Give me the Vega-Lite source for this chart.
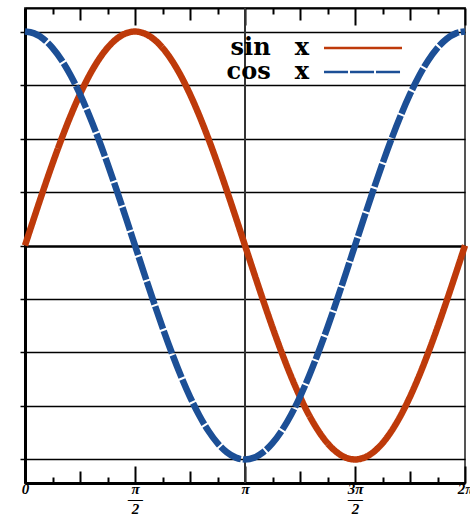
{
  "$schema": "https://vega.github.io/schema/vega-lite/v6.json",
  "autosize": "none",
  "width": 440,
  "height": 475,
  "padding": {"left": 25, "top": 8, "right": 5, "bottom": 40},
  "background": "white",
  "config": {
    "view": {"stroke": "#555", "strokeWidth": 2},
    "legend": {
      "orient": "none",
      "legendX": 197,
      "legendY": 28,
      "title": null,
      "symbolType": "M-4,0H4",
      "symbolSize": 380,
      "symbolStrokeWidth": 2.5,
      "symbolOffset": 129,
      "labelAlign": "right",
      "labelOffset": -66,
      "labelFont": "DejaVu Serif",
      "labelFontWeight": "bold",
      "labelFontSize": 24,
      "labelColor": "black",
      "labelLimit": 300,
      "rowPadding": 0
    }
  },
  "data": {
    "values": [
      {"d": 0, "sin": 0, "cos": 1},
      {"d": 7.5, "sin": 0.1305, "cos": 0.9914},
      {"d": 15, "sin": 0.2588, "cos": 0.9659},
      {"d": 22.5, "sin": 0.3827, "cos": 0.9239},
      {"d": 30, "sin": 0.5, "cos": 0.866},
      {"d": 37.5, "sin": 0.6088, "cos": 0.7934},
      {"d": 45, "sin": 0.7071, "cos": 0.7071},
      {"d": 52.5, "sin": 0.7934, "cos": 0.6088},
      {"d": 60, "sin": 0.866, "cos": 0.5},
      {"d": 67.5, "sin": 0.9239, "cos": 0.3827},
      {"d": 75, "sin": 0.9659, "cos": 0.2588},
      {"d": 82.5, "sin": 0.9914, "cos": 0.1305},
      {"d": 90, "sin": 1, "cos": 0},
      {"d": 97.5, "sin": 0.9914, "cos": -0.1305},
      {"d": 105, "sin": 0.9659, "cos": -0.2588},
      {"d": 112.5, "sin": 0.9239, "cos": -0.3827},
      {"d": 120, "sin": 0.866, "cos": -0.5},
      {"d": 127.5, "sin": 0.7934, "cos": -0.6088},
      {"d": 135, "sin": 0.7071, "cos": -0.7071},
      {"d": 142.5, "sin": 0.6088, "cos": -0.7934},
      {"d": 150, "sin": 0.5, "cos": -0.866},
      {"d": 157.5, "sin": 0.3827, "cos": -0.9239},
      {"d": 165, "sin": 0.2588, "cos": -0.9659},
      {"d": 172.5, "sin": 0.1305, "cos": -0.9914},
      {"d": 180, "sin": 0, "cos": -1},
      {"d": 187.5, "sin": -0.1305, "cos": -0.9914},
      {"d": 195, "sin": -0.2588, "cos": -0.9659},
      {"d": 202.5, "sin": -0.3827, "cos": -0.9239},
      {"d": 210, "sin": -0.5, "cos": -0.866},
      {"d": 217.5, "sin": -0.6088, "cos": -0.7934},
      {"d": 225, "sin": -0.7071, "cos": -0.7071},
      {"d": 232.5, "sin": -0.7934, "cos": -0.6088},
      {"d": 240, "sin": -0.866, "cos": -0.5},
      {"d": 247.5, "sin": -0.9239, "cos": -0.3827},
      {"d": 255, "sin": -0.9659, "cos": -0.2588},
      {"d": 262.5, "sin": -0.9914, "cos": -0.1305},
      {"d": 270, "sin": -1, "cos": 0},
      {"d": 277.5, "sin": -0.9914, "cos": 0.1305},
      {"d": 285, "sin": -0.9659, "cos": 0.2588},
      {"d": 292.5, "sin": -0.9239, "cos": 0.3827},
      {"d": 300, "sin": -0.866, "cos": 0.5},
      {"d": 307.5, "sin": -0.7934, "cos": 0.6088},
      {"d": 315, "sin": -0.7071, "cos": 0.7071},
      {"d": 322.5, "sin": -0.6088, "cos": 0.7934},
      {"d": 330, "sin": -0.5, "cos": 0.866},
      {"d": 337.5, "sin": -0.3827, "cos": 0.9239},
      {"d": 345, "sin": -0.2588, "cos": 0.9659},
      {"d": 352.5, "sin": -0.1305, "cos": 0.9914},
      {"d": 360, "sin": 0, "cos": 1}
    ]
  },
  "resolve": {"axis": {"x": "independent"}},
  "layer": [
    {
      "mark": {"type": "rule", "color": "#333", "strokeWidth": 2},
      "encoding": {
        "x": {
          "datum": 180,
          "type": "quantitative",
          "scale": {"domain": [0, 360], "nice": false, "zero": false},
          "axis": {
            "orient": "top",
            "title": null,
            "labels": false,
            "grid": false,
            "values": [0, 22.5, 45, 67.5, 90, 112.5, 135, 157.5, 180, 202.5, 225, 247.5, 270, 292.5, 315, 337.5, 360],
            "domainColor": "black",
            "domainWidth": 2,
            "tickColor": "black",
            "tickWidth": 2,
            "tickSize": {"condition": [{"test": "datum.value % 90 === 0", "value": -17}, {"test": "datum.value % 45 === 0", "value": -12}], "value": -6}
          }
        }
      }
    },
    {
      "transform": [{"fold": ["sin", "cos"], "as": ["fn", "v"]}],
      "mark": {"type": "line", "strokeWidth": 6.5, "interpolate": "monotone", "clip": false},
      "encoding": {
        "x": {
          "field": "d",
          "type": "quantitative",
          "scale": {"domain": [0, 360], "nice": false, "zero": false},
          "axis": {
            "orient": "bottom",
            "title": null,
            "grid": false,
            "values": [0, 22.5, 45, 67.5, 90, 112.5, 135, 157.5, 180, 202.5, 225, 247.5, 270, 292.5, 315, 337.5, 360],
            "domainColor": "black",
            "domainWidth": 3,
            "tickColor": "black",
            "tickWidth": 2,
            "tickSize": {"condition": [{"test": "datum.value % 90 === 0", "value": -17}, {"test": "datum.value % 45 === 0", "value": -12}], "value": -6},
            "labelExpr": "datum.value === 0 ? '0' : datum.value === 90 ? ['π', '—', '2'] : datum.value === 180 ? 'π' : datum.value === 270 ? ['3π', '—', '2'] : datum.value === 360 ? '2π' : ''",
            "labelFont": "Liberation Serif",
            "labelFontWeight": "bold",
            "labelFontStyle": "italic",
            "labelFontSize": 15,
            "labelColor": "black",
            "labelLineHeight": 10,
            "labelPadding": 15,
            "labelFlush": false,
            "labelOverlap": false,
            "labelBound": false
          }
        },
        "y": {
          "field": "v",
          "type": "quantitative",
          "scale": {"domain": [-1.11, 1.11], "nice": false, "zero": false},
          "axis": {
            "title": null,
            "labels": false,
            "values": [-1, -0.75, -0.5, -0.25, 0, 0.25, 0.5, 0.75, 1],
            "grid": true,
            "gridColor": "black",
            "gridOpacity": 1,
            "gridWidth": {"condition": {"test": "datum.value === 0", "value": 2.5}, "value": 1.3},
            "domainColor": "black",
            "domainWidth": 3,
            "tickColor": "black",
            "tickWidth": 1.5,
            "tickSize": 5
          }
        },
        "color": {
          "field": "fn",
          "type": "nominal",
          "scale": {"domain": ["sin", "cos"], "range": ["#BE3A0A", "#1C4F96"]},
          "legend": {"labelExpr": "datum.value === 'sin' ? 'sin\u2003x' : 'cos\u2003x'"}
        },
        "strokeDash": {
          "field": "fn",
          "type": "nominal",
          "scale": {"domain": ["sin", "cos"], "range": [[1, 0], [24, 2]]},
          "legend": {"labelExpr": "datum.value === 'sin' ? 'sin\u2003x' : 'cos\u2003x'"}
        }
      }
    }
  ]
}
